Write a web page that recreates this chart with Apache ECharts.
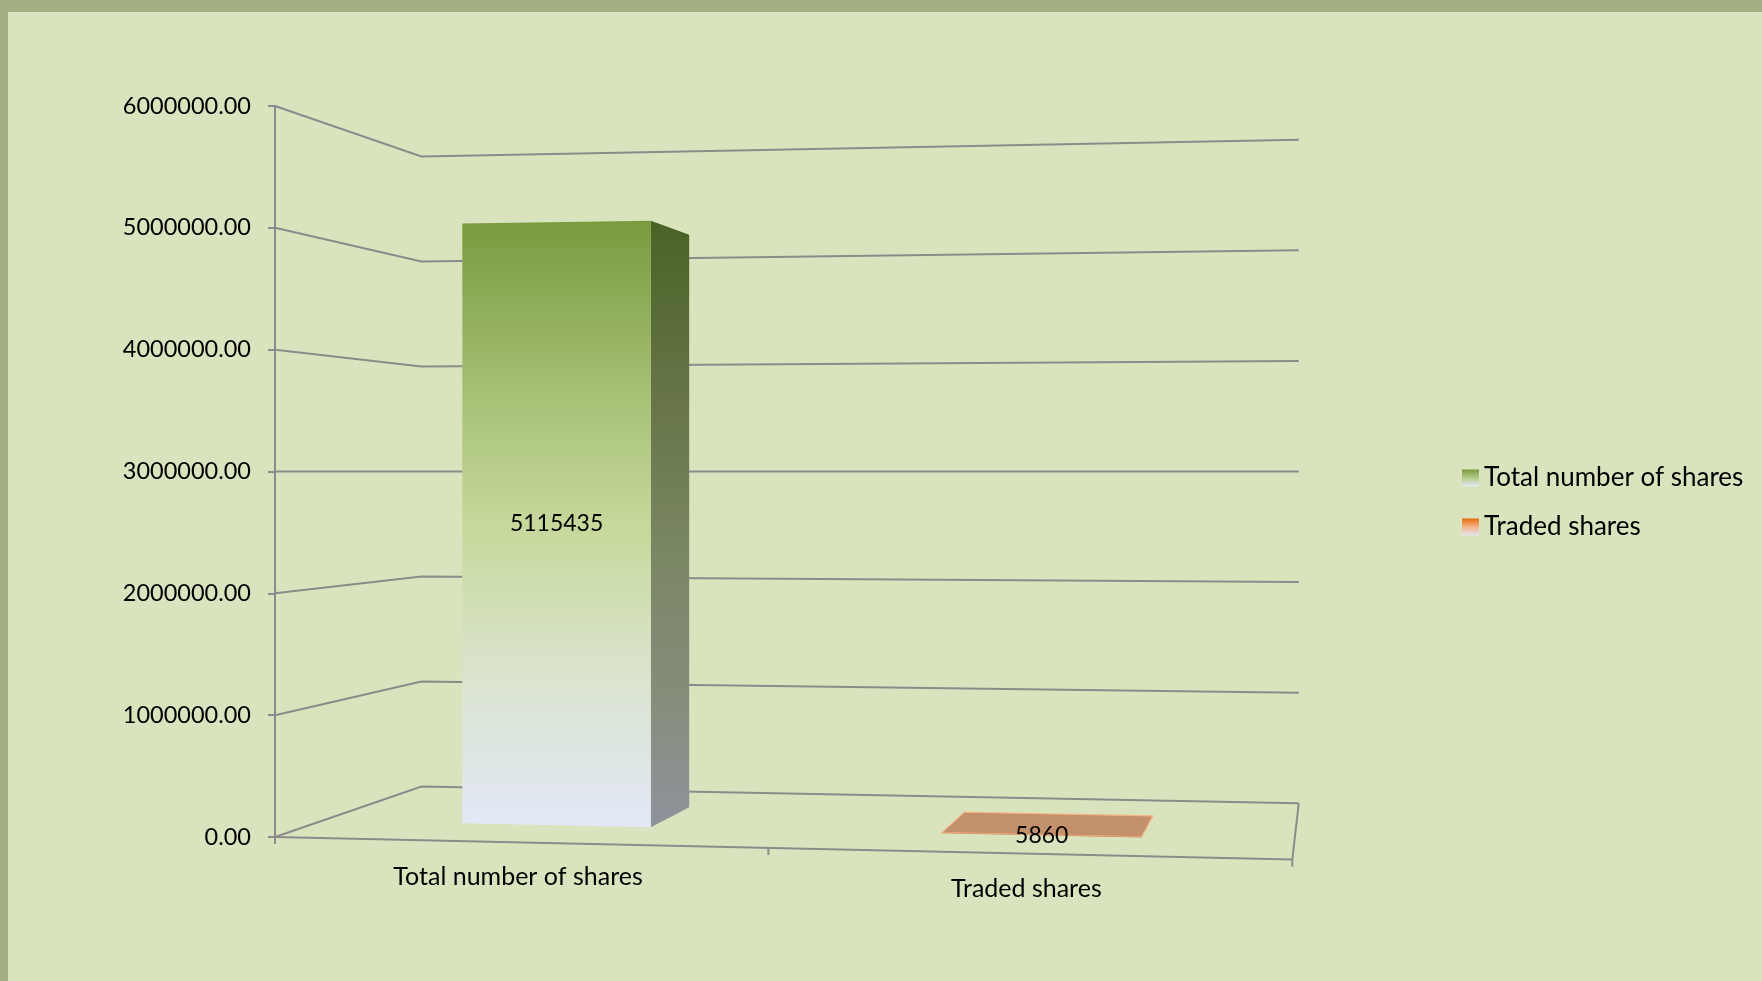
<!DOCTYPE html>
<html>
<head>
<meta charset="utf-8">
<script src="https://cdn.jsdelivr.net/npm/echarts@6/dist/echarts.min.js"></script>
<style>
  html, body { margin: 0; padding: 0; background: #d9e4be; }
  #chart { width: 1762px; height: 981px; }
</style>
</head>
<body>
<div id="chart"></div>
<script>
// ---- data ----
const categories = ['Total number of shares', 'Traded shares'];
const values = [5115435, 5860];
const yTicks = [0, 1000000, 2000000, 3000000, 4000000, 5000000, 6000000];
const yMin = 0, yMax = 6000000, yInterval = 1000000;

// ---- layout / style ----
const FONT = 'Lato';
const GRID = { left: 275, top: 106, bottom: 144 };
const HORIZON_VALUE = 3000000;          // eye level of the 3D view
// floor corners (screen): front-right and back-left of the unit floor square
const FR = [1292.3, 859.6], BL = [421.4, 786.6];
const BAR_W = 0.4;                       // fraction of category band
const Z_FRONT = 0.3, Z_BACK = 0.68;
const LINE = '#8b8b8b';

const faceStyles = [
  {
    front: [[0, '#7a9a3e'], [0.3, '#a8c278'], [0.5, '#c6d89a'], [0.72, '#d8e3c8'], [1, '#e3e8f7']],
    side: [[0, '#4a6226'], [0.3, '#677548'], [0.55, '#7a8764'], [0.8, '#868d7c'], [1, '#8e939d']],
    top: '#9bb35f', edge: null,
    legend: [[0, '#7a9a3e'], [0.5, '#b6cc8a'], [1, '#e4e8f6']]
  },
  {
    front: [[0, '#d68a52'], [1, '#c99070']],
    side: [[0, '#a8744e'], [1, '#a8744e']],
    top: '#c2916b', edge: 'rgba(245,180,130,0.9)',
    legend: [[0, '#e46c0a'], [0.5, '#f2b48a'], [1, '#e6e6f4']]
  }
];

const chart = echarts.init(document.getElementById('chart'));

function grad(stops) {
  return new echarts.graphic.LinearGradient(0, 0, 0, 1,
    stops.map(s => ({ offset: s[0], color: s[1] })));
}

// perspective projection of (X along categories, Z depth, value) using the value axis scale
function projector(api) {
  const y0 = api.coord([0, 0])[1];
  const yH = api.coord([0, HORIZON_VALUE])[1];
  const C = y0 - yH;
  const g = C / (FR[1] - yH) - 1;
  const h = C / (BL[1] - yH) - 1;
  const c = GRID.left;
  const a = FR[0] * (1 + g) - c;
  const b = BL[0] * (1 + h) - c;
  return (X, Z, v) => {
    const w = 1 + g * X + h * Z;
    const yv = api.coord([0, v])[1];
    const t = (yv - yH) / C;
    return [(a * X + b * Z + c) / w, yH + (C / w) * t];
  };
}

function gridItem(params, api) {
  const P = projector(api);
  const v = api.value(1);
  const children = [];
  const lineStyle = { stroke: LINE, lineWidth: 2, fill: null };
  children.push({
    type: 'polyline',
    shape: { points: [P(0, 0, v), P(0, 1, v), P(1, 1, v)] },
    style: lineStyle
  });
  if (params.dataIndex === 0) {
    const n = categories.length;
    children.push({ type: 'polyline', shape: { points: [P(0, 0, v), P(1, 0, v), P(1, 1, v)] }, style: lineStyle });
    for (let i = 0; i <= n; i++) {
      const p = P(i / n, 0, v);
      children.push({ type: 'line', shape: { x1: p[0], y1: p[1], x2: p[0], y2: p[1] + 7 }, style: { stroke: LINE, lineWidth: 2 } });
    }
    for (let i = 0; i < n; i++) {
      const p = P((i + 0.5) / n, 0, v);
      children.push({
        type: 'text',
        style: {
          text: categories[i], x: p[0], y: p[1] + 35,
          align: 'center', verticalAlign: 'middle',
          font: '25px ' + FONT, fill: '#000'
        }
      });
    }
  }
  return { type: 'group', children };
}

function barItem(params, api) {
  const P = projector(api);
  const cat = api.value(0), v = api.value(1);
  const st = faceStyles[params.seriesIndex - 1];
  const n = categories.length;
  const xc = (cat + 0.5) / n, hw = BAR_W / n / 2;
  const x1 = xc - hw, x2 = xc + hw;
  const fbl = P(x1, Z_FRONT, 0), fbr = P(x2, Z_FRONT, 0);
  const ftl = P(x1, Z_FRONT, v), ftr = P(x2, Z_FRONT, v);
  const bbr = P(x2, Z_BACK, 0), btr = P(x2, Z_BACK, v), btl = P(x1, Z_BACK, v);
  const children = [];
  children.push({ type: 'polygon', shape: { points: [fbr, bbr, btr, ftr] }, style: { fill: grad(st.side) } });
  if (v < HORIZON_VALUE) {
    children.push({ type: 'polygon', shape: { points: [ftl, ftr, btr, btl] },
      style: { fill: st.top, stroke: st.edge, lineWidth: st.edge ? 1.2 : 0 } });
  }
  children.push({ type: 'polygon', shape: { points: [fbl, fbr, ftr, ftl] }, style: { fill: grad(st.front) } });
  const cx = (fbl[0] + fbr[0] + ftl[0] + ftr[0]) / 4;
  const cy = (fbl[1] + fbr[1] + ftl[1] + ftr[1]) / 4;
  children.push({
    type: 'text',
    style: { text: String(v), x: cx, y: cy, align: 'center', verticalAlign: 'middle', font: '23px ' + FONT, fill: '#000' }
  });
  return { type: 'group', children };
}

const option = {
  backgroundColor: '#a3b082',
  animation: false,
  graphic: [{
    type: 'rect', left: 8, top: 12, z: 0, silent: true,
    shape: { width: 1754, height: 969 },
    style: { fill: '#d9e4be' }
  }],
  grid: { left: GRID.left, top: GRID.top, bottom: GRID.bottom, right: 400 },
  xAxis: { type: 'category', data: categories, show: false },
  yAxis: {
    type: 'value', min: yMin, max: yMax, interval: yInterval,
    axisLine: { show: true, lineStyle: { color: LINE, width: 2 } },
    axisTick: { show: true, inside: false, length: 7, lineStyle: { color: LINE, width: 2 } },
    splitLine: { show: false },
    axisLabel: { margin: 24, color: '#000', fontSize: 23.5, fontFamily: FONT, formatter: v => v.toFixed(2) }
  },
  legend: {
    orient: 'vertical', left: 1457, top: 460, itemWidth: 17, itemHeight: 17, itemGap: 23,
    icon: 'rect', data: categories,
    textStyle: { color: '#000', fontSize: 26, fontFamily: FONT }
  },
  series: [
    {
      type: 'custom', name: '_grid', renderItem: gridItem, silent: true, z: 1,
      data: yTicks.map(v => [0, v])
    },
    ...categories.map((name, i) => ({
      type: 'custom', name, renderItem: barItem, z: 3,
      itemStyle: { color: grad(faceStyles[i].legend) },
      data: [[i, values[i]]]
    }))
  ]
};
chart.setOption(option);
</script>
</body>
</html>
